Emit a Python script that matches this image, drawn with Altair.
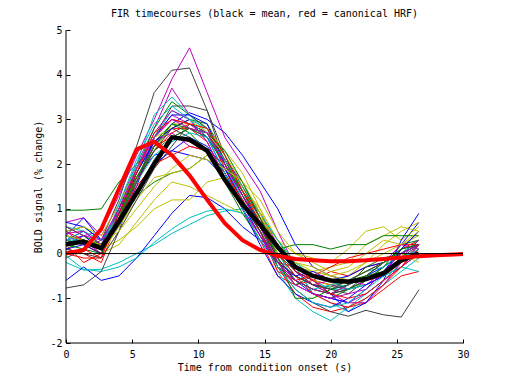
import altair as alt
import pandas as pd

# FIR sample times (s)
t_fir = [0, 1.333, 2.667, 4, 5.333, 6.667, 8, 9.333, 10.667, 12, 13.333,
         14.667, 16, 17.333, 18.667, 20, 21.333, 22.667, 24, 25.333, 26.667]
t_hrf = t_fir + [28, 29.333, 30]

mean_vals = [0.21, 0.27, 0.12, 0.72, 1.35, 2.0, 2.6, 2.55, 2.3, 1.65, 1.1,
             0.65, 0.15, -0.3, -0.5, -0.6, -0.63, -0.57, -0.44, -0.15, 0.0]
hrf_vals = [0.0, 0.08, 0.55, 1.45, 2.33, 2.5, 2.2, 1.75, 1.2, 0.68, 0.3,
            0.08, -0.05, -0.12, -0.15, -0.17, -0.17, -0.15, -0.12, -0.09,
            -0.06, -0.04, -0.02, -0.01]

blue_lines = [
    [0.3, 0.5, 0.2, 0.8, 1.6, 2.4, 2.9, 3.15, 3.0, 2.7, 2.2, 1.6, 1.0, 0.2, -0.3, -0.5, -0.6, -0.4, -0.2, 0.2, 0.7],
    [-0.6, -0.3, -0.6, -0.5, -0.1, 0.4, 0.9, 1.3, 1.25, 1.0, 0.6, 0.3, -0.2, -0.5, -0.7, -0.8, -0.7, -0.5, -0.3, 0.0, 0.3],
    [0.7, 0.6, 0.3, 0.9, 1.7, 2.2, 2.3, 2.6, 2.4, 1.9, 1.2, 0.6, -0.1, -0.6, -0.9, -1.0, -1.1, -0.8, -0.4, 0.1, 0.5],
    [0.2, 0.4, 0.1, 0.6, 1.5, 2.6, 3.1, 3.1, 2.9, 2.0, 1.3, 0.7, 0.1, -0.4, -0.6, -0.9, -1.3, -1.1, -0.6, 0.3, 0.9],
    [0.4, 0.8, 0.3, 0.7, 1.4, 2.0, 2.3, 2.2, 2.1, 1.7, 1.1, 0.4, -0.2, -0.5, -0.4, -0.6, -0.5, -0.3, -0.2, 0.0, 0.2],
    [0.1, 0.2, 0.0, 0.9, 1.8, 2.5, 2.8, 3.0, 2.6, 1.8, 1.0, 0.2, -0.5, -0.9, -1.1, -1.2, -1.0, -0.7, -0.5, 0.1, 0.5],
]
green_lines = [
    [0.97, 0.97, 1.0, 1.6, 2.0, 2.4, 2.8, 3.0, 2.9, 2.2, 1.5, 0.8, 0.0, -0.4, -0.7, -0.75, -0.6, -0.5, -0.4, -0.2, 0.1],
    [0.5, 0.6, 0.3, 0.6, 1.3, 1.6, 1.8, 1.9, 2.2, 1.9, 1.4, 0.9, 0.3, -0.3, -0.9, -1.0, -0.8, -0.6, -0.3, 0.0, 0.3],
    [0.3, 0.2, 0.1, 0.9, 1.9, 2.8, 3.4, 3.1, 2.8, 2.1, 1.4, 0.6, -0.2, -0.7, -0.5, -0.6, -0.8, -0.6, -0.3, 0.2, 0.3],
    [0.1, 0.3, 0.2, 0.8, 1.8, 2.5, 2.9, 2.7, 2.3, 1.6, 0.9, 0.3, 0.1, 0.2, 0.2, 0.1, 0.2, 0.2, 0.4, 0.4, 0.4],
    [0.6, 0.4, 0.2, 1.0, 1.7, 2.3, 2.6, 2.8, 2.6, 2.0, 1.4, 0.7, -0.3, -0.6, -0.8, -0.9, -0.7, -0.3, -0.1, 0.0, -0.1],
    [0.2, 0.1, 0.0, 0.8, 1.7, 2.4, 2.9, 2.8, 2.7, 2.3, 1.6, 0.8, -0.1, -1.0, -1.0, -0.8, -0.7, -0.5, -0.2, 0.1, 0.2],
]
red_lines = [
    [0.1, 0.0, -0.2, 0.8, 1.9, 2.6, 3.0, 2.9, 2.7, 1.9, 1.1, 0.5, -0.3, -0.9, -1.2, -1.3, -1.2, -1.1, -0.8, -0.5, -0.4],
    [0.0, -0.1, -0.1, 1.0, 2.0, 2.5, 2.8, 2.8, 2.5, 1.7, 1.0, 0.3, -0.5, -0.7, -0.6, -0.4, -0.5, -0.3, -0.2, 0.1, 0.3],
    [0.5, 0.3, 0.2, 0.9, 1.6, 2.3, 2.7, 2.9, 2.7, 2.1, 1.5, 0.8, -0.2, -0.3, -0.6, -0.7, -0.6, -0.6, -0.5, -0.2, 0.0],
    [0.2, -0.2, 0.0, 0.7, 1.7, 2.4, 2.6, 2.5, 2.3, 2.0, 1.3, 0.6, 0.0, -0.5, -0.9, -1.1, -1.2, -1.0, -0.7, -0.3, 0.2],
    [0.3, 0.2, 0.0, 0.8, 1.5, 2.0, 2.2, 2.4, 2.3, 1.8, 1.2, 0.5, -0.4, -0.6, -0.5, -0.3, -0.1, 0.0, 0.1, 0.2, 0.2],
    [0.0, 0.1, -0.1, 0.9, 1.8, 2.7, 3.0, 2.9, 2.8, 2.2, 1.4, 0.7, 0.2, -0.4, -0.6, -0.9, -1.0, -0.9, -0.6, -0.3, 0.1],
]
cyan_lines = [
    [-0.2, -0.37, -0.35, -0.2, 0.0, 0.2, 0.45, 0.65, 0.85, 0.95, 1.0, 0.8, 0.2, -0.4, -0.6, -0.8, -0.8, -0.6, -0.4, -0.2, 0.1],
    [-0.05, -0.35, -0.4, -0.3, -0.1, 0.25, 0.55, 0.8, 0.95, 1.0, 0.9, 0.6, 0.1, -0.3, -0.9, -1.1, -1.3, -1.0, -0.7, -0.4, -0.1],
    [0.3, 0.5, 0.2, 1.0, 2.0, 3.1, 3.5, 3.1, 2.7, 2.0, 1.2, 0.5, -0.4, -1.0, -1.3, -1.5, -1.2, -0.9, -0.6, -0.2, 0.2],
    [0.4, 0.2, 0.1, 1.0, 2.0, 2.6, 3.2, 3.0, 2.8, 2.2, 1.4, 0.7, 0.0, -0.6, -0.8, -0.7, -0.6, -0.4, -0.3, 0.0, 0.3],
    [0.6, 0.5, 0.3, 0.8, 1.6, 2.2, 2.5, 2.7, 2.6, 2.1, 1.5, 0.9, 0.3, -0.2, -0.5, -0.6, -0.8, -0.7, -0.5, -0.3, -0.4],
    [0.3, 0.3, 0.1, 1.1, 2.1, 2.9, 3.3, 3.0, 2.6, 1.8, 1.0, 0.3, -0.3, -0.8, -1.1, -1.2, -1.1, -0.8, -0.5, -0.1, 0.1],
]
magenta_lines = [
    [0.3, 0.4, 0.5, 1.3, 2.2, 3.0, 3.9, 4.6, 3.6, 2.6, 2.0, 1.4, 0.5, -0.3, -0.6, -0.7, -0.8, -0.6, -0.5, -0.2, 0.1],
    [0.7, 0.8, 0.4, 1.1, 2.0, 2.8, 3.7, 3.1, 2.8, 1.9, 1.2, 0.5, -0.3, -0.7, -0.9, -1.0, -1.1, -0.9, -0.6, -0.3, 0.0],
    [0.5, 0.2, 0.1, 0.9, 1.8, 2.6, 3.1, 2.9, 2.6, 2.1, 1.6, 0.9, 0.2, -0.4, -0.7, -0.9, -1.1, -1.1, -0.7, -0.2, 0.2],
    [0.2, 0.3, 0.0, 0.7, 1.6, 2.5, 2.7, 2.4, 2.3, 1.8, 1.0, 0.4, -0.3, -0.5, -0.7, -0.6, -0.6, -0.7, -0.4, -0.1, 0.3],
    [0.45, 0.5, 0.2, 1.0, 1.9, 2.7, 3.2, 3.0, 2.5, 1.7, 1.0, 0.4, -0.2, -0.6, -0.8, -0.9, -0.7, -0.5, -0.2, 0.2, 0.1],
    [0.6, 0.4, 0.3, 1.0, 1.9, 2.6, 3.0, 2.8, 2.7, 2.0, 1.3, 0.6, -0.2, -0.7, -0.9, -1.0, -0.9, -0.8, -0.4, 0.0, 0.2],
]
yellow_lines = [
    [0.2, 0.3, 0.0, 0.2, 0.7, 1.2, 1.6, 1.5, 1.3, 1.1, 0.9, 0.5, 0.0, -0.3, -0.4, -0.3, -0.2, 0.2, 0.4, 0.6, 0.5],
    [0.6, 0.4, 0.1, 0.3, 0.6, 1.0, 1.2, 1.2, 1.6, 1.7, 1.2, 0.8, 0.3, 0.0, -0.1, -0.2, 0.1, 0.5, 0.6, 0.3, 0.6],
    [0.4, 0.3, 0.1, 0.9, 1.7, 2.3, 2.9, 2.9, 2.8, 2.3, 1.8, 1.0, 0.1, -0.4, -0.6, -0.7, -0.5, -0.2, 0.2, 0.5, 0.7],
    [0.3, 0.2, 0.0, 0.6, 1.2, 1.7, 1.8, 1.9, 2.2, 2.0, 1.5, 1.0, 0.3, -0.2, -0.4, -0.5, -0.4, -0.2, 0.0, 0.2, 0.4],
    [0.5, 0.6, 0.4, 1.1, 1.9, 2.6, 2.8, 3.0, 2.7, 2.2, 1.6, 0.9, 0.0, -0.2, -0.3, -0.5, -0.6, -0.4, -0.2, 0.0, -0.2],
    [0.4, 0.3, 0.2, 0.5, 1.0, 1.5, 1.9, 2.2, 2.1, 1.9, 1.6, 1.2, 0.5, 0.0, -0.2, -0.4, -0.3, 0.0, 0.3, 0.2, 0.5],
]
gray_lines = [
    [-0.1, 0.1, 0.3, 1.2, 2.4, 3.6, 4.1, 4.15, 3.2, 2.2, 1.4, 0.8, 0.2, -0.4, -0.7, -0.9, -0.8, -0.7, -0.5, -0.3, 0.0],
    [-0.77, -0.7, -0.4, 0.5, 1.6, 2.6, 3.3, 3.3, 3.2, 2.0, 1.2, 0.5, -0.3, -0.8, -1.1, -1.3, -1.4, -1.27, -1.37, -1.42, -0.81],
    [0.4, 0.3, 0.2, 0.7, 1.4, 2.1, 2.6, 2.8, 2.6, 2.0, 1.3, 0.6, 0.0, -0.5, -0.7, -0.8, -0.9, -0.6, -0.4, -0.1, 0.2],
    [0.1, 0.0, -0.1, 0.5, 1.2, 1.9, 2.4, 2.9, 2.7, 2.1, 1.3, 0.6, -0.1, -0.6, -0.8, -0.9, -0.8, -0.5, -0.2, 0.1, 0.2],
    [0.3, 0.2, 0.2, 0.8, 1.6, 2.3, 2.8, 2.6, 2.3, 1.8, 1.1, 0.5, -0.2, -0.5, -0.7, -0.8, -0.6, -0.4, -0.2, 0.0, 0.2],
]

groups = [blue_lines, green_lines, red_lines, cyan_lines, magenta_lines, yellow_lines, gray_lines]
group_colors = ["#0000FF", "#008000", "#FF0000", "#00BFBF", "#BF00BF", "#BFBF00", "#404040"]

rows, names, cols = [], [], []
n_max = max(len(g) for g in groups)
for j in range(n_max):
    for g, (lines, c) in enumerate(zip(groups, group_colors)):
        if j >= len(lines):
            continue
        name = f"s{j:02d}_{g}"
        names.append(name)
        cols.append(c)
        for t, v in zip(t_fir, lines[j]):
            rows.append({"s": name, "t": t, "v": v})
df_fir = pd.DataFrame(rows)
df_mean = pd.DataFrame({"t": t_fir, "v": mean_vals})
df_hrf = pd.DataFrame({"t": t_hrf, "v": hrf_vals})
df_frame = pd.DataFrame({"t": [0, 0, 0], "t2": [0, 30, 30],
                         "v": [-2, -2, 0], "v2": [5, -2, 0]})

FONT = "DejaVu Sans Mono"
xs = alt.Scale(domain=[0, 30], nice=False, zero=False)
ys = alt.Scale(domain=[-2, 5], nice=False, zero=False)
xaxis = alt.Axis(title="Time from condition onset (s)", values=[0, 5, 10, 15, 20, 25, 30],
                 labelPadding=6, titlePadding=3, labelFlush=False,
                 labelExpr="toString(datum.value)")
yaxis = alt.Axis(title="BOLD signal (% change)", values=[-2, -1, 0, 1, 2, 3, 4, 5],
                 labelPadding=4, titlePadding=6, labelFlush=False,
                 labelExpr="toString(datum.value)")
X = alt.X("t:Q", scale=xs, axis=xaxis)
Y = alt.Y("v:Q", scale=ys, axis=yaxis)

fir = alt.Chart(df_fir).mark_line(strokeWidth=1).encode(
    x=X, y=Y,
    color=alt.Color("s:N", scale=alt.Scale(domain=names, range=cols), legend=None),
)
mean = alt.Chart(df_mean).mark_line(color="black", strokeWidth=4.5).encode(x=X, y=Y)
hrf = alt.Chart(df_hrf).mark_line(color="#FF0000", strokeWidth=4).encode(x=X, y=Y)
frame = alt.Chart(df_frame).mark_rule(color="black", strokeWidth=1).encode(
    x=X, x2="t2:Q", y=Y, y2="v2:Q")

chart = alt.layer(fir, mean, hrf, frame).properties(
    width=397, height=313,
    autosize=alt.AutoSizeParams(type="none"),
    padding={"left": 58, "top": 22, "right": 41, "bottom": 33},
    title=alt.TitleParams("FIR timecourses (black = mean, red = canonical HRF)",
                          font=FONT, fontSize=10, fontWeight="normal", color="black",
                          frame="group", anchor="middle", offset=6),
).configure_view(stroke=None).configure_axis(
    domain=False, grid=False, tickSize=4, offset=-4, tickColor="black",
    labelColor="black", titleColor="black", labelFont=FONT, titleFont=FONT,
    labelFontSize=10, titleFontSize=10, titleFontWeight="normal",
)

chart.save("out.html", embed_options={"renderer": "svg", "actions": False})
